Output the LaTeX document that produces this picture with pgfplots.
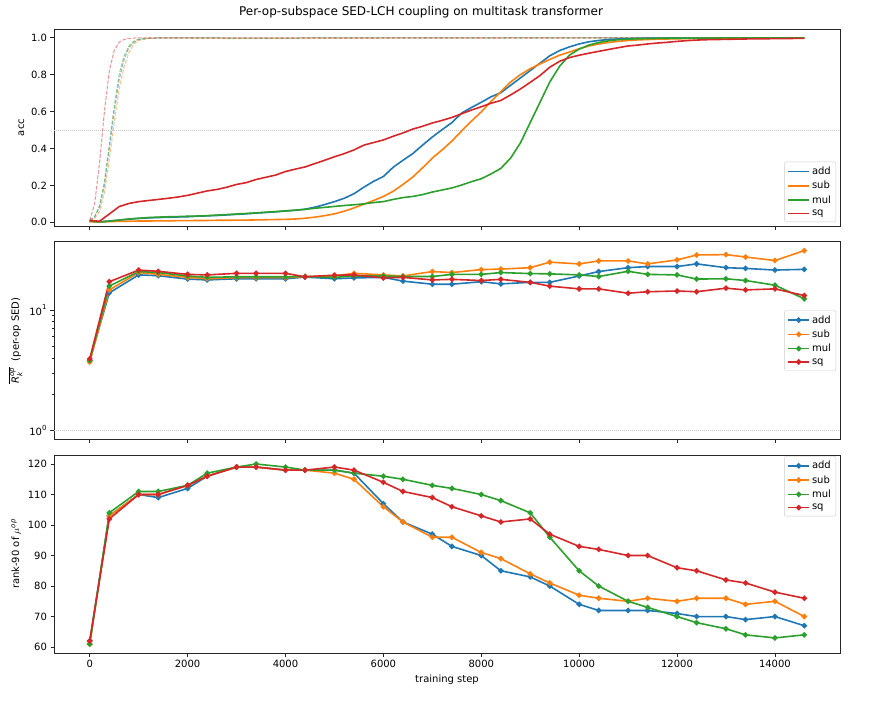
\documentclass[border=0pt]{standalone}
\usepackage{fontspec}
\setmainfont{DejaVu Sans}
\usepackage{pgfplots}
\usepackage{pgfplotstable}
\pgfplotsset{compat=1.18}
\definecolor{c0}{HTML}{1F77B4}
\definecolor{c1}{HTML}{FF7F0E}
\definecolor{c2}{HTML}{2CA02C}
\definecolor{c3}{HTML}{D62728}

\pgfplotstableread{
step add sub mul sq
0 0.008 0.003 0.006 0.010
200 0.003 0.002 0.002 0.006
400 0.007 0.004 0.006 0.045
600 0.012 0.005 0.012 0.085
800 0.017 0.006 0.018 0.102
1000 0.021 0.007 0.022 0.112
1200 0.024 0.007 0.026 0.118
1400 0.026 0.008 0.028 0.124
1600 0.027 0.008 0.030 0.130
1800 0.029 0.009 0.031 0.137
2000 0.030 0.009 0.033 0.146
2200 0.033 0.010 0.034 0.158
2400 0.035 0.010 0.036 0.170
2600 0.037 0.011 0.039 0.178
2800 0.040 0.011 0.042 0.190
3000 0.043 0.012 0.045 0.205
3200 0.046 0.012 0.048 0.215
3400 0.050 0.013 0.051 0.232
3600 0.053 0.014 0.055 0.244
3800 0.057 0.015 0.058 0.256
4000 0.061 0.016 0.062 0.275
4200 0.065 0.018 0.066 0.288
4400 0.071 0.022 0.070 0.300
4600 0.082 0.028 0.076 0.318
4800 0.096 0.036 0.081 0.336
5000 0.112 0.046 0.086 0.355
5200 0.130 0.060 0.091 0.372
5400 0.155 0.078 0.095 0.392
5600 0.190 0.098 0.100 0.418
5800 0.222 0.118 0.107 0.432
6000 0.248 0.140 0.112 0.446
6200 0.298 0.168 0.124 0.466
6400 0.336 0.205 0.134 0.484
6600 0.372 0.245 0.140 0.505
6800 0.418 0.295 0.150 0.520
7000 0.462 0.348 0.164 0.538
7200 0.502 0.392 0.175 0.552
7400 0.540 0.440 0.186 0.568
7600 0.592 0.495 0.202 0.588
7800 0.622 0.548 0.220 0.608
8000 0.650 0.598 0.236 0.626
8200 0.680 0.655 0.262 0.645
8400 0.702 0.708 0.292 0.660
8600 0.742 0.760 0.348 0.690
8800 0.782 0.800 0.430 0.722
9000 0.822 0.832 0.540 0.758
9200 0.862 0.858 0.650 0.795
9400 0.902 0.882 0.760 0.840
9600 0.930 0.905 0.845 0.872
9800 0.950 0.922 0.905 0.892
10000 0.966 0.940 0.938 0.905
10200 0.978 0.955 0.960 0.916
10400 0.985 0.966 0.974 0.926
10600 0.990 0.974 0.983 0.936
10800 0.993 0.980 0.989 0.946
11000 0.995 0.985 0.992 0.955
11200 0.996 0.988 0.994 0.960
11400 0.997 0.990 0.995 0.966
11600 0.997 0.992 0.996 0.971
11800 0.998 0.993 0.997 0.975
12000 0.998 0.994 0.997 0.980
12200 0.998 0.995 0.998 0.984
12400 0.998 0.996 0.998 0.987
12600 0.999 0.996 0.998 0.989
12800 0.999 0.997 0.998 0.990
13000 0.999 0.997 0.999 0.991
13200 0.999 0.997 0.999 0.992
13400 0.999 0.998 0.999 0.993
13600 0.999 0.998 0.999 0.994
13800 0.999 0.998 0.999 0.994
14000 0.999 0.998 0.999 0.995
14200 0.999 0.998 0.999 0.995
14400 0.999 0.998 0.999 0.996
14600 0.999 0.998 0.999 0.996
}\acctest

\pgfplotstableread{
step add sub mul sq
0 0.01 0.01 0.01 0.01
100 0.03 0.02 0.03 0.10
200 0.08 0.06 0.09 0.32
300 0.20 0.16 0.22 0.60
400 0.40 0.34 0.42 0.82
500 0.60 0.54 0.63 0.93
600 0.77 0.72 0.80 0.975
700 0.88 0.84 0.90 0.99
800 0.945 0.92 0.955 0.996
900 0.975 0.965 0.98 0.998
1000 0.99 0.985 0.992 0.999
1200 0.997 0.996 0.997 0.999
1500 0.999 0.998 0.999 0.999
2000 0.999 0.997 0.999 0.999
3000 0.998 0.995 0.998 0.999
4000 0.998 0.995 0.998 0.999
5000 0.999 0.996 0.999 0.999
6000 0.999 0.997 0.999 0.999
8000 0.999 0.998 0.999 0.999
10000 0.999 0.999 0.999 0.999
12000 0.999 0.999 0.999 0.999
14600 0.999 0.999 0.999 0.999
}\acctrain

\pgfplotstableread{
step add sub mul sq
0 3.83 3.70 3.80 3.93
400 13.9 14.7 15.8 17.2
1000 19.6 20.5 20.9 21.5
1400 19.3 19.8 20.5 21.0
2000 18.1 18.7 19.2 19.8
2400 17.8 18.2 18.7 19.6
3000 18.2 18.6 18.9 20.2
3400 18.2 18.6 18.9 20.2
4000 18.2 18.6 18.9 20.2
4400 18.8 19.0 19.0 18.9
5000 18.2 19.2 18.7 19.5
5400 18.5 20.2 19.2 19.6
6000 18.7 19.6 19.2 18.5
6400 17.4 19.2 19.0 18.7
7000 16.4 20.9 19.0 17.8
7400 16.4 20.5 19.8 18.0
8000 17.2 21.7 19.8 17.6
8400 16.5 21.9 20.5 18.0
9000 17.0 22.5 20.1 17.0
9400 17.0 25.0 20.0 15.8
10000 19.2 24.2 19.6 15.0
10400 20.9 25.6 19.0 15.0
11000 22.5 25.6 21.0 13.8
11400 23.0 24.2 19.8 14.2
12000 23.0 26.1 19.6 14.4
12400 24.2 28.7 18.1 14.2
13000 22.5 28.9 18.2 15.2
13400 22.2 27.6 17.6 14.7
14000 21.5 25.8 16.1 15.0
14600 21.8 31.2 12.4 13.2
}\sed

\pgfplotstableread{
step add sub mul sq
0 62 61 61 62
400 103 103 104 102
1000 110 110 111 110
1400 109 110 111 110
2000 112 113 113 113
2400 116 116 117 116
3000 119 119 119 119
3400 119 119 120 119
4000 118 118 119 118
4400 118 118 118 118
5000 118 117 118 119
5400 117 115 117 118
6000 107 106 116 114
6400 101 101 115 111
7000 97 96 113 109
7400 93 96 112 106
8000 90 91 110 103
8400 85 89 108 101
9000 83 84 104 102
9400 80 81 96 97
10000 74 77 85 93
10400 72 76 80 92
11000 72 75 75 90
11400 72 76 73 90
12000 71 75 70 86
12400 70 76 68 85
13000 70 76 66 82
13400 69 74 64 81
14000 70 75 63 78
14600 67 70 64 76
}\rank

\tikzset{
  solidline/.style={line width=1.6pt},
  mkline/.style={line width=1.6pt, mark=*, mark size=1.9pt, mark options={solid}},
  trainline/.style={line width=1pt, opacity=0.5, dash pattern=on 3.7pt off 1.6pt},
}

\pgfplotsset{
  base/.style={
    scale only axis, width=786pt,
    xmin=-730, xmax=15330,
    xtick={0,2000,...,14000},
    tick align=outside, xtick pos=bottom, ytick pos=left,
    axis line style={black!85, line width=0.8pt},
    every tick/.style={black!85, line width=0.8pt},
    major tick length=3.5pt, minor tick length=2pt,
    ticklabel style={font=\fontsize{10}{12}\selectfont},
    label style={font=\fontsize{10}{12}\selectfont},
    /pgf/number format/assume math mode=true,
    /pgf/number format/set thousands separator={},
    scaled ticks=false,
    legend cell align=left,
    legend style={font=\fontsize{10}{12}\selectfont, draw=black!20, rounded corners=2pt,
      fill=white, fill opacity=0.8, text opacity=1, inner xsep=3pt, inner ysep=3pt,
      row sep=1.2pt},
  },
  linelegend/.style={legend image code/.code={\draw[##1] (0pt,0pt) -- (21pt,0pt);}},
  mklegend/.style={legend image code/.code={\draw[mark repeat=2,mark phase=2,##1] plot coordinates {(0pt,0pt) (10.5pt,0pt) (21pt,0pt)};}},
}

\begin{document}
\begin{tikzpicture}
\path[use as bounding box] (0pt,0pt) rectangle (891pt,-721pt);
\node[font=\fontsize{12}{14}\selectfont] at (421pt,-12pt) {Per-op-subspace SED-LCH coupling on multitask transformer};

% top
\begin{axis}[base, at={(54pt,-226pt)}, anchor=south west, height=197pt,
  ymin=-0.02, ymax=1.047, ytick={0,0.2,...,1.0},
  yticklabel style={/pgf/number format/.cd, fixed, fixed zerofill, precision=1},
  xticklabels={}, ylabel={acc}, linelegend,
  legend style={at={(0.995,0.02)}, anchor=south east}]
\addplot[gray!45, line width=0.6pt, dash pattern=on 1pt off 1pt, forget plot] coordinates {(-730,0.5) (15330,0.5)};
\addplot[trainline, c0, forget plot] table[x=step, y=add] {\acctrain};
\addplot[trainline, c1, forget plot] table[x=step, y=sub] {\acctrain};
\addplot[trainline, c2, forget plot] table[x=step, y=mul] {\acctrain};
\addplot[trainline, c3, forget plot] table[x=step, y=sq] {\acctrain};
\addplot[solidline, c0] table[x=step, y=add] {\acctest};
\addplot[solidline, c1] table[x=step, y=sub] {\acctest};
\addplot[solidline, c2] table[x=step, y=mul] {\acctest};
\addplot[solidline, c3] table[x=step, y=sq] {\acctest};
\legend{add, sub, mul, sq}
\end{axis}

% middle
\begin{axis}[base, at={(54pt,-439.3pt)}, anchor=south west, height=197.6pt,
  ymode=log, ymin=0.842, ymax=37.0, ytick={1,10},
  yticklabels={$\mathrm{10}^{\mathrm{0}}$, $\mathrm{10}^{\mathrm{1}}$},
  xticklabels={}, ylabel={$\overline{\mathit{R}_{\mathit{k}}^{\mathit{op}}}$\ \ (per-op SED)}, mklegend,
  legend style={at={(0.995,0.5)}, anchor=east}]
\addplot[gray!45, line width=0.6pt, dash pattern=on 1pt off 1pt, forget plot] coordinates {(-730,1) (15330,1)};
\addplot[mkline, c0] table[x=step, y=add] {\sed};
\addplot[mkline, c1] table[x=step, y=sub] {\sed};
\addplot[mkline, c2] table[x=step, y=mul] {\sed};
\addplot[mkline, c3] table[x=step, y=sq] {\sed};
\legend{add, sub, mul, sq}
\end{axis}

% bottom
\begin{axis}[base, at={(54pt,-653pt)}, anchor=south west, height=198pt,
  ymin=58.05, ymax=122.95, ytick={60,70,...,120},
  xlabel={training step}, ylabel={rank-90 of $\mu^{\mathit{op}}$}, mklegend,
  legend style={at={(0.995,0.995)}, anchor=north east}]
\addplot[mkline, c0] table[x=step, y=add] {\rank};
\addplot[mkline, c1] table[x=step, y=sub] {\rank};
\addplot[mkline, c2] table[x=step, y=mul] {\rank};
\addplot[mkline, c3] table[x=step, y=sq] {\rank};
\legend{add, sub, mul, sq}
\end{axis}
\end{tikzpicture}
\end{document}
